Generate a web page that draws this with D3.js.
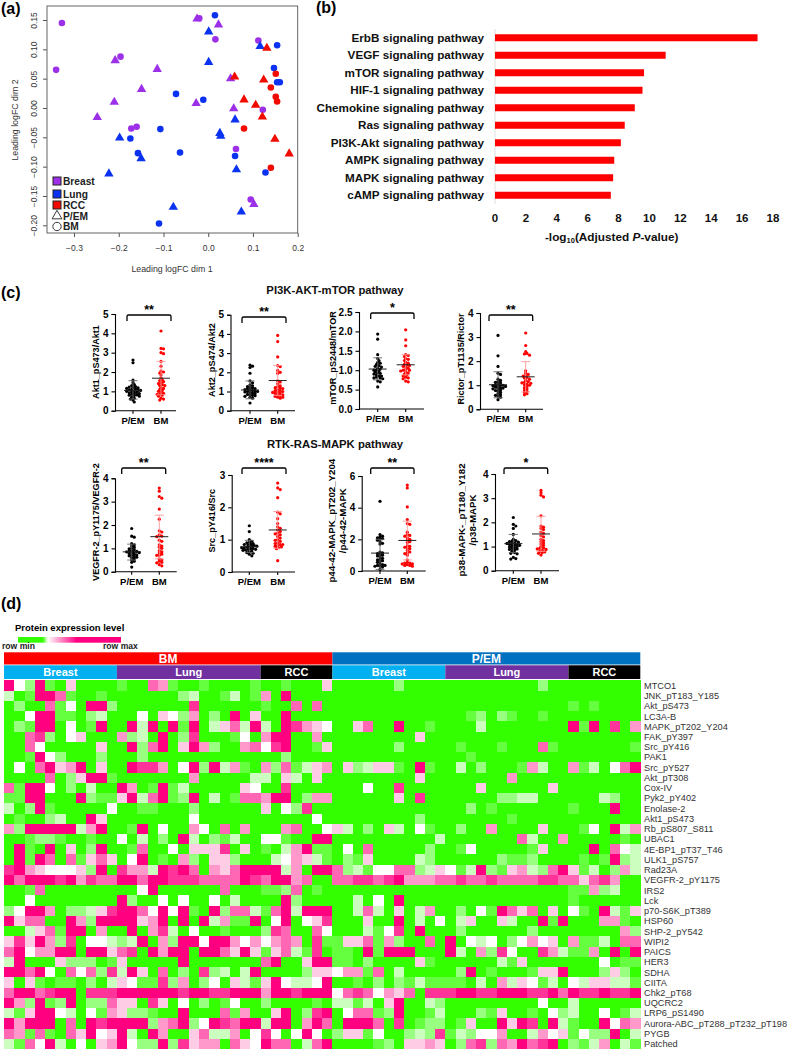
<!DOCTYPE html>
<html><head><meta charset="utf-8">
<script src="https://cdn.jsdelivr.net/npm/d3@7"></script>
<style>
html,body{margin:0;padding:0;background:#fff}
svg{display:block;font-family:"Liberation Sans",Arial,sans-serif}
</style></head><body><svg id="c" width="789" height="1050"></svg>
<script>
// ---------- Panel (a) MDS ----------
const mdsBreastBM=[[-0.327,0.145],[-0.340,0.065],[-0.196,0.0875],[-0.020,0.153],[0.016,0.117],[0.112,0.115],[0.122,-0.003],[-0.172,-0.035],[-0.160,-0.032],[0.062,-0.070],[0.095,-0.156]];
const mdsBreastPEM=[[-0.025,0.152],[0.023,0.142],[-0.208,0.081],[-0.114,0.066],[-0.149,0.032],[-0.210,0.010],[-0.248,-0.016],[-0.027,0.008],[0.050,0.050],[0.057,-0.001],[0.102,-0.164]];
const mdsLungBM=[[0.015,0.158],[0.154,0.107],[0.147,0.068],[0.154,0.044],[0.160,0.044],[-0.072,0.024],[-0.011,0.014],[-0.107,-0.036],[-0.174,-0.052],[-0.157,-0.077],[-0.063,-0.076],[0.060,-0.082],[0.128,-0.110],[-0.110,-0.197]];
const mdsLungPEM=[[0.001,0.130],[0.116,0.105],[0.001,0.078],[0.060,-0.020],[0.026,-0.043],[0.028,-0.048],[-0.198,-0.051],[-0.150,-0.086],[-0.222,-0.112],[0.063,-0.105],[-0.078,-0.169],[0.074,-0.177]];
const mdsRccBM=[[0.151,0.0585],[0.140,0.035],[0.151,0.019],[0.154,0.011],[0.080,-0.035],[0.140,-0.102]];
const mdsRccPEM=[[0.131,0.102],[0.059,0.053],[0.124,0.048],[0.080,0.014],[0.106,0.005],[0.121,-0.015],[0.149,-0.053],[0.181,-0.078]];
const mdsXTicks=[-0.3,-0.2,-0.1,0,0.1,0.2];
const mdsYTicks=[0.15,0.10,0.05,0,-0.05,-0.10,-0.15,-0.20];
const mdsLegend=["Breast","Lung","RCC","P/EM","BM"];

// ---------- Panel (b) pathways ----------
const pathways=["ErbB signaling pathway","VEGF signaling pathway","mTOR signaling pathway","HIF-1 signaling pathway","Chemokine signaling pathway","Ras signaling pathway","PI3K-Akt signaling pathway","AMPK signaling pathway","MAPK signaling pathway","cAMP signaling pathway"];
const pathwayValues=[17,11.05,9.65,9.55,9.05,8.4,8.15,7.72,7.65,7.5];
const pathwayTicks=[0,2,4,6,8,10,12,14,16,18];

// ---------- Panel (c) dot plots ----------
const akt1PEM=[2.62,2.48,1.58,1.45,1.35,1.3,1.25,1.22,1.2,1.18,1.15,1.12,1.1,1.08,1.05,1.05,1.02,1.0,0.98,0.95,0.92,0.9,0.88,0.85,0.82,0.8,0.78,0.75,0.7,0.65,0.6,0.55,0.45];
const akt1BM=[4.12,3.22,3.2,3.0,2.95,2.55,2.3,2.05,2.0,1.95,1.85,1.7,1.6,1.55,1.5,1.45,1.4,1.35,1.3,1.3,1.2,1.15,1.1,1.05,1.0,0.95,0.9,0.85,0.85,0.8,0.75,0.65,0.6,0.55];
const akt2PEM=[2.38,2.32,2.25,1.95,1.55,1.45,1.35,1.3,1.25,1.2,1.18,1.15,1.12,1.1,1.08,1.05,1.02,1.0,1.0,0.98,0.95,0.92,0.9,0.85,0.82,0.8,0.78,0.75,0.7,0.65,0.4];
const akt2BM=[3.92,3.6,2.8,2.35,2.3,2.1,2.0,1.95,1.55,1.5,1.4,1.3,1.25,1.2,1.18,1.15,1.1,1.05,1.05,1.0,0.98,0.95,0.92,0.9,0.85,0.82,0.8,0.75,0.7,0.7,0.65];
const mtorPEM=[1.93,1.8,1.4,1.3,1.25,1.2,1.18,1.15,1.12,1.1,1.08,1.05,1.03,1.0,1.0,0.98,0.95,0.93,0.92,0.9,0.88,0.85,0.85,0.82,0.8,0.8,0.78,0.72,0.7,0.57];
const mtorBM=[2.04,1.78,1.63,1.4,1.38,1.35,1.3,1.28,1.25,1.2,1.18,1.15,1.13,1.12,1.1,1.08,1.05,1.02,1.0,1.0,0.98,0.95,0.93,0.9,0.88,0.85,0.82,0.8,0.78,0.72,0.7];
const rictorPEM=[3.07,2.22,1.78,1.5,1.45,1.25,1.2,1.15,1.12,1.1,1.05,1.02,1.0,1.0,0.98,0.95,0.95,0.92,0.9,0.88,0.85,0.85,0.8,0.78,0.75,0.7,0.65,0.6,0.58,0.55,0.5,0.4];
const rictorBM=[3.17,2.65,2.4,2.32,2.3,2.25,1.6,1.5,1.45,1.4,1.38,1.32,1.3,1.25,1.2,1.15,1.12,1.1,1.08,1.05,1.02,1.0,0.95,0.9,0.85,0.8,0.75,0.7,0.65,0.6];
const vegfrPEM=[1.85,1.52,1.48,1.2,1.15,1.1,1.05,1.0,0.98,0.95,0.9,0.88,0.87,0.85,0.85,0.82,0.8,0.78,0.75,0.72,0.7,0.68,0.65,0.62,0.6,0.55,0.5,0.45,0.4,0.2];
const vegfrBM=[3.58,3.45,3.22,3.15,2.68,2.25,1.75,1.7,1.58,1.52,1.5,1.35,1.3,1.15,1.1,1.05,1.0,0.9,0.85,0.8,0.75,0.7,0.7,0.55,0.5,0.45,0.4,0.38,0.3,0.25];
const srcPEM=[1.43,1.25,1.0,0.95,0.92,0.9,0.88,0.86,0.85,0.84,0.82,0.8,0.8,0.78,0.77,0.75,0.75,0.73,0.72,0.7,0.7,0.68,0.67,0.65,0.63,0.6,0.58,0.55,0.5];
const srcBM=[2.75,2.6,2.55,2.3,1.85,1.8,1.65,1.5,1.4,1.35,1.3,1.25,1.2,1.18,1.15,1.1,1.05,1.0,0.98,0.95,0.9,0.88,0.85,0.85,0.82,0.8,0.78,0.75,0.72,0.35];
const p44PEM=[4.4,2.3,2.2,2.15,2.1,2.05,2.0,1.95,1.85,1.75,1.7,1.2,1.15,1.1,1.05,1.0,0.95,0.9,0.8,0.75,0.7,0.65,0.6,0.55,0.45,0.4,0.35,0.35,0.3,0.3,0.25,0.1];
const p44BM=[5.43,5.25,4.05,3.25,3.0,2.95,2.45,2.3,2.25,2.2,2.1,2.0,1.95,1.85,1.8,1.6,1.55,1.5,1.45,1.4,1.3,1.2,1.15,1.1,1.0,0.7,0.55,0.5,0.5,0.45,0.45,0.4,0.35,0.35,0.3];
const p38PEM=[2.2,1.92,1.85,1.75,1.5,1.3,1.25,1.22,1.2,1.18,1.15,1.13,1.12,1.1,1.08,1.05,1.05,1.02,1.0,0.98,0.95,0.92,0.9,0.88,0.85,0.8,0.75,0.72,0.7,0.55,0.5,0.48];
const p38BM=[3.32,3.22,3.12,3.05,2.27,1.85,1.8,1.75,1.7,1.6,1.55,1.45,1.4,1.3,1.25,1.2,1.15,1.1,1.05,1.0,0.95,0.92,0.9,0.88,0.85,0.8,0.78,0.75,0.72,0.65];
const plotTitles=[["Akt1_pS473/Akt1"],["Akt2_pS474/Akt2"],["mTOR_pS2448/mTOR"],["Rictor_pT1135/Rictor"],["VEGFR-2_pY1175/VEGFR-2"],["Src_pY416/Src"],["p44-42-MAPK_pT202_Y204","/p44-42-MAPK"],["p38-MAPK-_pT180_Y182","/p38-MAPK"]];
const plotGroups=["P/EM","BM"];
const plotStars=["**","**","*","**","**","****","**","*"];
const plotTicks=[[0,1,2,3,4,5],[0,1,2,3,4,5],[0,0.5,1,1.5,2,2.5],[0,1,2,3,4],[0,1,2,3,4],[0,1,2,3],[0,2,4,6],[0,1,2,3,4]];
const plotPEM=[akt1PEM,akt2PEM,mtorPEM,rictorPEM,vegfrPEM,srcPEM,p44PEM,p38PEM];
const plotBM=[akt1BM,akt2BM,mtorBM,rictorBM,vegfrBM,srcBM,p44BM,p38BM];
// mean, upper whisker, lower whisker
const plotStatsPEM=[[1.05,1.55,0.6],[1.08,1.55,0.62],[1.03,1.32,0.75],[1.02,1.56,0.48],[0.85,1.18,0.5],[0.78,0.98,0.6],[1.13,2.0,0.1],[1.12,1.5,0.75]];
const plotStatsBM=[[1.68,2.55,0.82],[1.57,2.35,0.8],[1.14,1.4,0.88],[1.35,1.98,0.72],[1.5,2.42,0.55],[1.3,1.87,0.73],[1.93,3.15,0.7],[1.52,2.25,0.8]];
const sectionTitles=["PI3K-AKT-mTOR pathway","RTK-RAS-MAPK pathway"];

// ---------- Panel (d) heat map ----------
const heatRows=["MTCO1","JNK_pT183_Y185","Akt_pS473","LC3A-B","MAPK_pT202_Y204","FAK_pY397","Src_pY416","PAK1","Src_pY527","Akt_pT308","Cox-IV","Pyk2_pY402","Enolase-2","Akt1_pS473","Rb_pS807_S811","UBAC1","4E-BP1_pT37_T46","ULK1_pS757","Rad23A","VEGFR-2_pY1175","IRS2","Lck","p70-S6K_pT389","HSP60","SHP-2_pY542","WIPI2","PAICS","HER3","SDHA","CIITA","Chk2_pT68","UQCRC2","LRP6_pS1490","Aurora-ABC_pT288_pT232_pT198","PYGB","Patched"];
const heatBM=["94291050000100761001000010010005","30199710010000000230013016090000","02007140992000000080000001007070","00499110230004054260209050090000","02199040190093909190357393098654","00782045000623090280001406990060","00740000050092790596200674890015","00194200020002000000000000020000","04079569050098860492936106271356","00007025991000000060000033053050","71994020300960191300000540080000","11990009211593791290301776990266","30291000004001100020000005042800","01002300950000000040000000000040","62999993690019040064070600067004","00122100100403020930213004410099","09109050290017004055580501036911","09197071575049010620552000346531","89654445290866398970657999936099","97999896877997998887777987996700","00170000000004900000070001127010","00400000000920040400403000092000","24996022358997494910927731793999","95770096299995690909361190490458","00357199060090683040010002870074","58596280443239062994996464676081","79466990995780969909975951573180","39000522201500000900000007900599","99794074728395070208230390000255","50510110203541182602405315943349","79978990888999999899889996998999","96291290227550850402014002000010","31599430416522100900071600590289","96999070989999267924987993990697","76171075945930960057336048404940","31749304056942292856607549770379"];
const heatPEM=["000000200000000000002000000000","000000000000000000000000000000","000000000000000000000001010000","000000000000012021001000000000","005700900100003000000009190806","000000005000000000000000000000","000000200000100010007100000001","000000000000010000000000000000","052355109100302000163006130479","000000005000000006000000000000","000400800000005000000500000000","000000508000000022330000003200","000000000000020100000001000900","000000002000000001000000000000","530205304100200600005000140936","000000000030000000730060000010","040700000200140000015000090743","021500003200000021120000101923","723144772354139215632795130263","778878966677877877778877578600","000000000000000000000001162300","003040900000000000000001000000","003730503600204197570504109315","000500903040350053009190006610","000314809000200000020000000062","155716200709043402464506113077","110919990009306284008631160909","110200005100000031500000004011","466170300000290100015590002520","001020213111103063541304355331","478746570888998899988979889889","331305900320000000004003000000","047712900130002150010423004013","099970801220150095980931009476","255140023281324460036451422903","000012055650278276978902136031"];
const heatTop=[{name:"BM",cols:32,color:"#ff0000"},{name:"P/EM",cols:30,color:"#0070c0"}];
const heatSub=[{name:"Breast",cols:11,color:"#00b0f0"},{name:"Lung",cols:14,color:"#7030a0"},{name:"RCC",cols:7,color:"#000"},{name:"Breast",cols:11,color:"#00b0f0"},{name:"Lung",cols:12,color:"#7030a0"},{name:"RCC",cols:7,color:"#000"}];

// ---------- drawing ----------
const svg=d3.select("#c");
const F="'Liberation Sans',Arial,sans-serif";
function txt(g,x,y,s,o={}){
  const t=g.append("text").attr("x",x).attr("y",y).text(s)
    .attr("font-size",o.size||10).attr("font-weight",o.bold?"bold":"normal")
    .attr("text-anchor",o.anchor||"start").attr("fill",o.fill||"#000");
  if(o.rotate) t.attr("transform",`rotate(-90 ${x} ${y})`);
  return t;
}
[["(a)",1,14],["(b)",316,13],["(c)",1,298],["(d)",1,609]].forEach(d=>txt(svg,d[1],d[2],d[0],{size:16,bold:true}));

// Panel a
(function(){
  const purple="#9b30e8",blue="#0a32f0",red="#f00a00";
  const x=d3.scaleLinear().domain([-0.3,0.2]).range([74,297.7]);
  const y=d3.scaleLinear().domain([0.15,-0.20]).range([20,225.3]);
  const g=svg.append("g");
  g.append("rect").attr("x",47).attr("y",6).attr("width",250.7).attr("height",227).attr("fill","none").attr("stroke","#555").attr("stroke-width",0.9);
  const gx=g.append("g").attr("transform","translate(0,233)").call(d3.axisBottom(x).tickValues(mdsXTicks).tickSize(4).tickFormat(d3.format(".1f")));
  gx.select(".domain").remove();
  gx.selectAll("line").attr("stroke","#555");
  gx.selectAll("text").attr("font-size",8.5).attr("font-family",F).attr("fill","#333").attr("y",12);
  const gy=g.append("g").attr("transform","translate(47,0)").call(d3.axisLeft(y).tickValues(mdsYTicks).tickSize(4).tickFormat(d3.format(".2f")));
  gy.select(".domain").remove();
  gy.selectAll("line").attr("stroke","#555");
  gy.selectAll("text").attr("font-size",8.5).attr("font-family",F).attr("fill","#333")
    .attr("text-anchor","middle").attr("x",null).attr("y",null).attr("dy",null)
    .attr("transform","translate(-10,0) rotate(-90)");
  txt(g,172,272,"Leading logFC dim 1",{size:8.8,anchor:"middle",fill:"#333"});
  txt(g,18,120,"Leading logFC dim 2",{size:8.8,anchor:"middle",fill:"#333",rotate:true});
  const tri=d3.symbol(d3.symbolTriangle,38)(), cir=d3.symbol(d3.symbolCircle,34)();
  [[mdsBreastPEM,purple,tri],[mdsBreastBM,purple,cir],[mdsLungPEM,blue,tri],[mdsLungBM,blue,cir],[mdsRccPEM,red,tri],[mdsRccBM,red,cir]].forEach(s=>{
    g.append("g").selectAll("path").data(s[0]).join("path")
      .attr("d",s[2]).attr("fill",s[1]).attr("transform",d=>`translate(${x(d[0])},${y(d[1])})`);
  });
  const ly=[181,194,205,216,226.5], lc=[purple,blue,red,null,null];
  mdsLegend.forEach((n,i)=>{
    if(i<3){
      g.append("rect").attr("x",53).attr("y",ly[i]-4).attr("width",8).attr("height",8).attr("fill",lc[i]).attr("stroke","#222").attr("stroke-width",1);
    } else {
      g.append("path").attr("d",i==3?d3.symbol(d3.symbolTriangle,42)():d3.symbol(d3.symbolCircle,55)())
        .attr("transform",`translate(57,${ly[i]})`).attr("fill","#fff").attr("stroke","#222").attr("stroke-width",0.9);
    }
    txt(g,63,ly[i]+3.5,n,{size:10.2,bold:true,fill:"#222"});
  });
})();

// Panel b
(function(){
  const x=d3.scaleLinear().domain([0,18]).range([495,773]);
  const y=d3.scaleBand().domain(pathways).range([29,204]).paddingInner(0.6).paddingOuter(0.3);
  const g=svg.append("g");
  g.append("line").attr("x1",495).attr("x2",495).attr("y1",29).attr("y2",204).attr("stroke","#ddd").attr("stroke-width",1);
  g.selectAll("rect").data(pathways).join("rect")
    .attr("x",x(0)).attr("y",d=>y(d)).attr("width",(d,i)=>x(pathwayValues[i])-x(0)).attr("height",y.bandwidth()).attr("fill","#ff0000");
  pathways.forEach(p=>txt(g,484,y(p)+y.bandwidth()/2+4,p,{size:11.7,bold:true,anchor:"end",fill:"#111"}));
  pathwayTicks.forEach(t=>txt(g,x(t),222,t,{size:11.5,bold:true,anchor:"middle",fill:"#111"}));
  const t=txt(g,611.7,241,"-log",{size:11.8,bold:true,anchor:"middle",fill:"#111"});
  t.append("tspan").attr("font-size",7.5).attr("dy",2).text("10");
  t.append("tspan").attr("dy",-2).text("(Adjusted ");
  t.append("tspan").attr("font-style","italic").text("P");
  t.append("tspan").text("-value)");
})();

// Panel c
(function(){
  const layout=[
   {ax:115,top:314,bot:410.7,end:176,a:133,b:161,b1:127,b2:171,by:315,tx:99,ty:362},
   {ax:230.5,top:314.7,bot:410.7,end:295,a:250,b:277.7,b1:242,b2:286,by:317,tx:215,ty:360},
   {ax:359,top:312,bot:409,end:424,a:377.7,b:405.7,b1:370.7,b2:414,by:313,tx:336,ty:358},
   {ax:480,top:313,bot:409.3,end:543,a:498,b:525.7,b1:489,b2:532.7,by:315,tx:464,ty:359},
   {ax:115,top:478.3,bot:571.7,end:176.7,a:131.7,b:159.3,b1:121.7,b2:165.7,by:468,tx:99,ty:522},
   {ax:231.7,top:475,bot:572,end:295,a:249.3,b:277.7,b1:242,b2:286,by:468,tx:215,ty:520.7},
   {ax:361.7,top:476,bot:571,end:425.7,a:380,b:407.3,b1:370.7,b2:414,by:468,tx:335.5,ty:520.7},
   {ax:495,top:474,bot:570.7,end:559,a:513.3,b:541,b1:504,b2:547.7,by:468,tx:465,ty:520}
  ];
  function dodge(vals,y,cx,gap){
    const placed=[];
    return vals.slice().sort((p,q)=>q-p).map(v=>{
      const py=y(v); let off=0;
      for(let k=0;k<40;k++){
        const c=(k%2?1:-1)*Math.ceil(k/2)*gap*0.55;
        if(placed.every(p=>Math.hypot(p[0]-c,p[1]-py)>=gap)){off=c;break;}
      }
      placed.push([off,py]);
      return [cx+off,py];
    });
  }
  [[335,293.5],[335,447.5]].forEach((p,i)=>txt(svg,p[0],p[1],sectionTitles[i],{size:11.3,bold:true,anchor:"middle",fill:"#111"}));
  layout.forEach((L,i)=>{
    const g=svg.append("g");
    const ticks=plotTicks[i], y=d3.scaleLinear().domain([0,d3.max(ticks)]).range([L.bot,L.top]);
    const gy=g.append("g").attr("transform",`translate(${L.ax},0)`).call(d3.axisLeft(y).tickValues(ticks).tickSize(3.5).tickFormat(i==2?d3.format(".1f"):d3.format("d")));
    gy.selectAll(".domain,line").attr("stroke","#000").attr("stroke-width",1.1);
    gy.selectAll("text").attr("font-size",10).attr("font-weight","bold").attr("font-family",F).attr("fill","#000");
    const x=d3.scalePoint().domain(plotGroups).range([L.a,L.b]);
    g.append("line").attr("x1",L.ax).attr("x2",L.end).attr("y1",L.bot).attr("y2",L.bot).attr("stroke","#000").attr("stroke-width",1.1);
    plotGroups.forEach(n=>{
      g.append("line").attr("x1",x(n)).attr("x2",x(n)).attr("y1",L.bot).attr("y2",L.bot+3).attr("stroke","#000").attr("stroke-width",1.1);
      txt(g,x(n),L.bot+13,n,{size:9.5,bold:true,anchor:"middle"});
    });
    const two=plotTitles[i].length>1;
    plotTitles[i].forEach((s,k)=>txt(g,L.tx+k*10.5,L.ty,s,{size:two?9.7:9.1,bold:true,anchor:"middle",rotate:true}));
    [[plotPEM[i],plotStatsPEM[i],"P/EM","#000","#666"],[plotBM[i],plotStatsBM[i],"BM","#ff0000","#ff9a9a"]].forEach(S=>{
      const cx=x(S[2]);
      g.append("g").selectAll("circle").data(dodge(S[0],y,cx,2.3)).join("circle")
        .attr("cx",d=>d[0]).attr("cy",d=>d[1]).attr("r",1.6).attr("fill",S[3]);
      const st=S[1];
      g.append("line").attr("x1",cx).attr("x2",cx).attr("y1",y(st[1])).attr("y2",y(st[2])).attr("stroke",S[4]).attr("stroke-width",0.9);
      [st[1],st[2]].forEach(v=>g.append("line").attr("x1",cx-4.5).attr("x2",cx+4.5).attr("y1",y(v)).attr("y2",y(v)).attr("stroke",S[4]).attr("stroke-width",0.9));
      g.append("line").attr("x1",cx-9).attr("x2",cx+9).attr("y1",y(st[0])).attr("y2",y(st[0])).attr("stroke","#222").attr("stroke-width",1);
    });
    const p=d3.path(); p.moveTo(L.b1,L.by+6); p.lineTo(L.b1,L.by+1.5); p.quadraticCurveTo(L.b1,L.by,L.b1+1.5,L.by);
    p.lineTo(L.b2-1.5,L.by); p.quadraticCurveTo(L.b2,L.by,L.b2,L.by+1.5); p.lineTo(L.b2,L.by+6);
    g.append("path").attr("d",p.toString()).attr("fill","none").attr("stroke","#000").attr("stroke-width",1.3);
    txt(g,(L.b1+L.b2)/2,L.by-1.5,plotStars[i],{size:12.5,bold:true,anchor:"middle"});
  });
})();

// Panel d
(function(){
  const g=svg.append("g");
  const x0=4,x1=640.3,nCol=heatTop[0].cols+heatTop[1].cols;
  const x=d3.scaleBand().domain(d3.range(nCol)).range([x0,x1]);
  const y=d3.scaleBand().domain(heatRows).range([680.4,1049]);
  const color=d3.scaleLinear().domain([0,4,9]).range(["#33ff00","#ffffff","#ff0080"]);
  const cells=[];
  heatRows.forEach((r,i)=>{
    const s=heatBM[i]+heatPEM[i];
    for(let c=0;c<nCol;c++) cells.push({r,c,v:+s[c]});
  });
  g.append("g").attr("shape-rendering","crispEdges").selectAll("rect").data(cells).join("rect")
    .attr("x",d=>x(d.c)).attr("y",d=>y(d.r)).attr("width",x.bandwidth()+0.3).attr("height",y.bandwidth()+0.3).attr("fill",d=>color(d.v));
  heatRows.forEach(r=>txt(g,644,y(r)+y.bandwidth()/2+3.3,r,{size:9.2,fill:"#333"}));
  function bars(list,yt,h,size){
    let c=0;
    list.forEach(b=>{
      const a=x0+c*x.step(), w=b.cols*x.step();
      g.append("rect").attr("x",a).attr("y",yt).attr("width",w).attr("height",h).attr("fill",b.color);
      txt(g,a+w/2,yt+h/2+size*0.36,b.name,{size,bold:true,anchor:"middle",fill:"#fff"});
      c+=b.cols;
    });
  }
  bars(heatTop,652.3,12.2,12);
  bars(heatSub,665.3,13.7,11);
  txt(g,15,631,"Protein expression level",{size:9.5,bold:true});
  const grad=svg.append("defs").append("linearGradient").attr("id","lg");
  [[0,"#33ff00"],[0.24,"#33ff00"],[0.29,"#ffffff"],[0.57,"#ff0080"],[1,"#ff0080"]].forEach(s=>grad.append("stop").attr("offset",s[0]).attr("stop-color",s[1]));
  g.append("rect").attr("x",18).attr("y",637).attr("width",103).attr("height",5.7).attr("fill","url(#lg)");
  txt(g,2,649,"row min",{size:8.6,bold:true,fill:"#222"});
  txt(g,103,649,"row max",{size:8.6,bold:true,fill:"#222"});
})();
</script></body></html>
